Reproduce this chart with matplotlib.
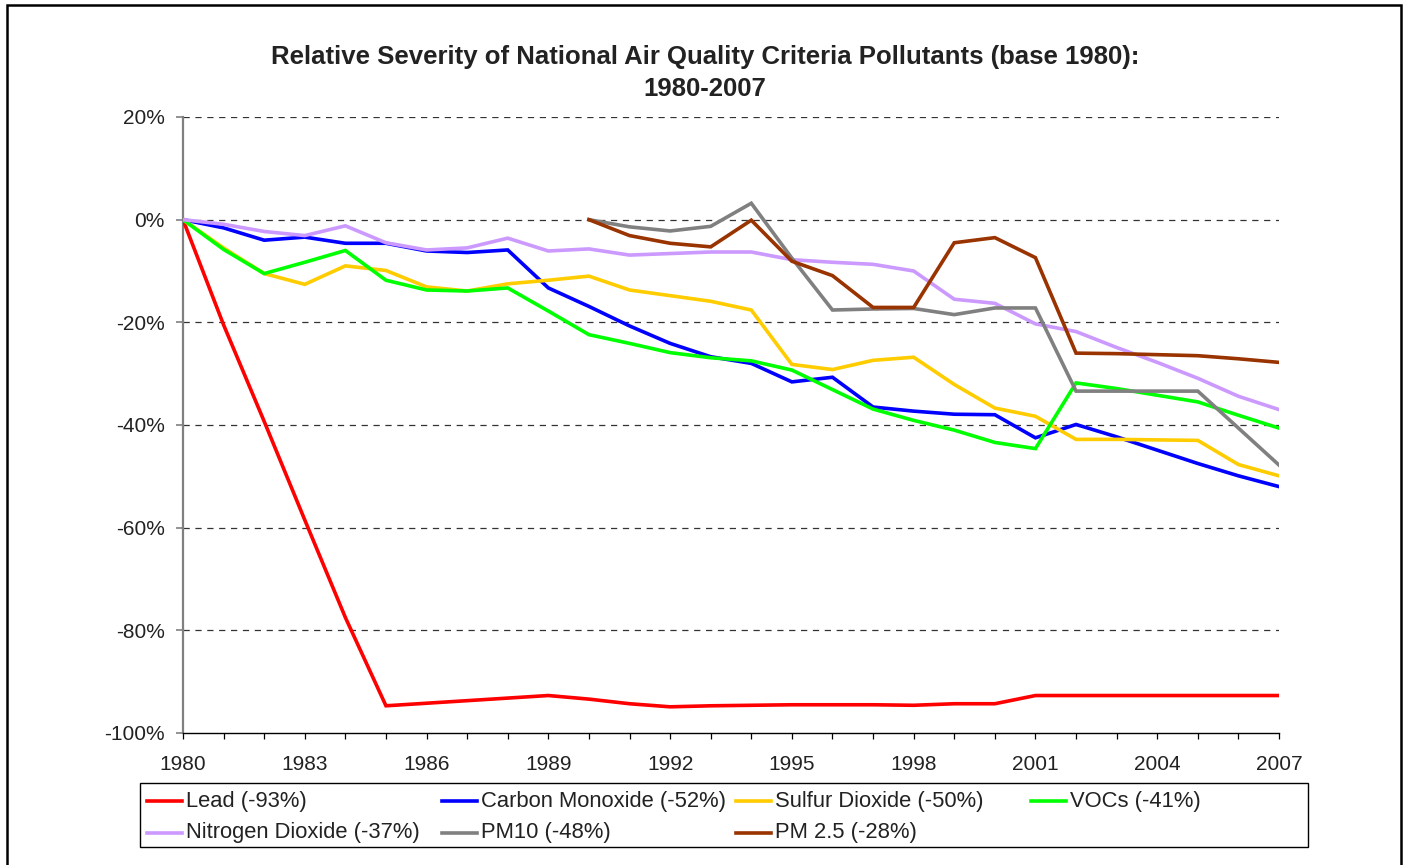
import matplotlib
matplotlib.use("Agg")
import matplotlib.pyplot as plt
from matplotlib.lines import Line2D
from matplotlib.patches import Rectangle

plt.rcParams['font.family'] = ['Liberation Sans', 'DejaVu Sans']

years = list(range(1980, 2008))
pm_years = list(range(1990, 2008))

lead = [0, -20.5, -39.3, -58.5, -77.5, -94.7, -94.2, -93.7, -93.2, -92.7, -93.4, -94.3, -94.9, -94.7,
        -94.6, -94.5, -94.5, -94.5, -94.6, -94.3, -94.3, -92.7, -92.7, -92.7, -92.7, -92.7, -92.7, -92.7]
co = [0, -1.6, -4.0, -3.4, -4.6, -4.6, -6.1, -6.4, -5.9, -13.3, -16.9, -20.7, -24.1, -26.7,
      -28.0, -31.6, -30.7, -36.5, -37.3, -37.9, -38.0, -42.5, -39.9, -42.3, -44.9, -47.5, -49.9, -52.0]
so2 = [0, -5.5, -10.5, -12.6, -9.0, -9.9, -13.1, -13.9, -12.5, -11.8, -11.0, -13.7, -14.8, -15.9,
       -17.6, -28.2, -29.2, -27.4, -26.8, -32.1, -36.7, -38.3, -42.8, -42.8, -42.9, -43.0, -47.7, -49.9]
voc = [0, -5.8, -10.5, -8.3, -6.0, -11.8, -13.7, -13.9, -13.3, -17.8, -22.4, -24.1, -25.9, -26.9,
       -27.5, -29.3, -33.1, -36.9, -39.1, -41.0, -43.4, -44.6, -31.8, -32.9, -34.2, -35.5, -38.1, -40.6]
no2 = [0, -0.9, -2.3, -3.1, -1.2, -4.5, -5.9, -5.5, -3.6, -6.1, -5.7, -6.9, -6.6, -6.3,
       -6.3, -7.8, -8.3, -8.7, -10.0, -15.5, -16.3, -20.3, -21.8, -24.9, -27.8, -30.9, -34.4, -37.0]
pm10 = [0, -1.4, -2.2, -1.3, 3.2, -7.5, -17.6, -17.4, -17.3, -18.5, -17.2, -17.2,
        -33.4, -33.4, -33.4, -33.4, -40.6, -47.8]
pm25 = [0, -3.1, -4.6, -5.3, -0.1, -8.1, -10.9, -17.1, -17.1, -4.5, -3.5, -7.4,
        -26.0, -26.1, -26.3, -26.5, -27.1, -27.8]

series_labels = ['Lead (-93%)', 'Carbon Monoxide (-52%)', 'Sulfur Dioxide (-50%)', 'VOCs (-41%)',
                 'Nitrogen Dioxide (-37%)', 'PM10 (-48%)', 'PM 2.5 (-28%)']
series_colors = ['#FF0000', '#0000FF', '#FFCC00', '#00FF00', '#CC99FF', '#808080', '#993300']
series_x = [years, years, years, years, years, pm_years, pm_years]
series_y = [lead, co, so2, voc, no2, pm10, pm25]

y_ticks = [-100, -80, -60, -40, -20, 0, 20]
x_label_years = [1980, 1983, 1986, 1989, 1992, 1995, 1998, 2001, 2004, 2007]
title = 'Relative Severity of National Air Quality Criteria Pollutants (base 1980):\n1980-2007'

W, H = 1406, 865
fig = plt.figure(figsize=(W / 100, H / 100), dpi=100)
fig.patch.set_facecolor('white')

ax = fig.add_axes([183 / W, 1 - 733 / H, (1279 - 183) / W, (733 - 117) / H])

draw_order = [4, 2, 1, 3, 0, 5, 6]
for i in draw_order:
    ax.plot(series_x[i], series_y[i], color=series_colors[i], lw=2.6, solid_joinstyle='miter',
            zorder=3 + i * 0.01)

ax.set_xlim(1980, 2007)
ax.set_ylim(-100, 20)
ax.set_yticks(y_ticks)
ax.set_yticklabels([f'{v}%' for v in y_ticks])
ax.set_xticks(years)
ax.set_xticklabels([str(y) if y in x_label_years else '' for y in years])

for v in y_ticks:
    if v != -100:
        ax.axhline(v, color='#333333', lw=0.9, ls=(0, (5, 4.5)), zorder=1)

for s in ['top', 'right']:
    ax.spines[s].set_visible(False)
ax.spines['left'].set_color('#808080')
ax.spines['left'].set_linewidth(1.6)
ax.spines['bottom'].set_color('black')
ax.spines['bottom'].set_linewidth(1.0)

ax.tick_params(axis='x', direction='out', length=4.5, width=0.9, color='black',
               labelsize=15, pad=11, labelcolor='#222222')
ax.tick_params(axis='y', direction='out', length=5, width=1.2, color='#808080',
               labelsize=15, pad=8, labelcolor='#222222')

fig.text(0.5015, 1 - 73 / H, title, ha='center', va='center', fontsize=18.5,
         fontweight='bold', color='#222222', linespacing=1.4)

# Legend (manual, uniform columns as in the reference)
fig.add_artist(Rectangle((140 / W, 1 - 847 / H), (1308 - 140) / W, (847 - 783) / H,
                         transform=fig.transFigure, fill=False, lw=1.0, edgecolor='black'))
for i, (lab, col) in enumerate(zip(series_labels, series_colors)):
    c, r = i % 4, i // 4
    x0 = 147 + c * 294.5
    yc = 801 + r * 31.5
    fig.add_artist(Line2D([x0 / W, (x0 + 35) / W], [1 - yc / H, 1 - yc / H],
                          transform=fig.transFigure, color=col, lw=2.6))
    fig.text((x0 + 39) / W, 1 - yc / H, lab, ha='left', va='center', fontsize=15.8,
             color='#222222')

# outer chart border
fig.add_artist(Rectangle((7 / W, -0.2), (1401 - 7) / W, 1.2 - 5 / H,
                         transform=fig.transFigure, fill=False, lw=1.8, edgecolor='black'))

fig.savefig('out.png', dpi=100, facecolor='white')
